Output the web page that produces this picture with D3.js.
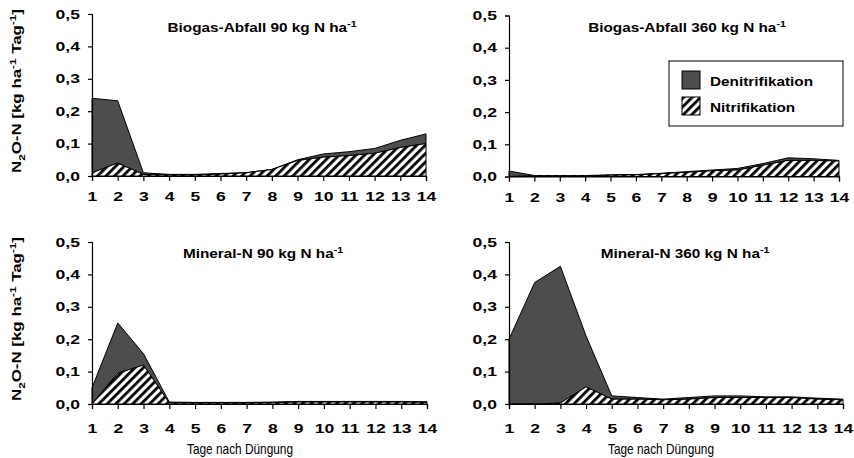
<!DOCTYPE html>
<html>
<head>
<meta charset="utf-8">
<script src="https://cdn.jsdelivr.net/npm/d3@7"></script>
<style>
  body { margin: 0; background: #fff; }
  svg { display: block; font-family: "Liberation Sans", Arial, sans-serif; }
</style>
</head>
<body>
<svg id="chart" width="854" height="458"></svg>
<script>
// Days after fertilisation
const days = [1, 2, 3, 4, 5, 6, 7, 8, 9, 10, 11, 12, 13, 14];
const yTicks = [0, 0.1, 0.2, 0.3, 0.4, 0.5];

// N2O-N flux from nitrification (lower layer) and denitrification (stacked on top)
const nitriBiogas90 = [0.01, 0.04, 0.005, 0.003, 0.003, 0.006, 0.01, 0.02, 0.048, 0.058, 0.063, 0.07, 0.088, 0.1];
const deniBiogas90  = [0.23, 0.192, 0.005, 0.002, 0.002, 0.002, 0.0, 0.0, 0.002, 0.01, 0.012, 0.015, 0.022, 0.03];

const nitriBiogas360 = [0, 0.002, 0.002, 0.002, 0.004, 0.005, 0.009, 0.013, 0.018, 0.02, 0.035, 0.05, 0.05, 0.048];
const deniBiogas360  = [0.017, 0.001, 0.001, 0.001, 0.001, 0.001, 0.001, 0.002, 0.002, 0.005, 0.005, 0.008, 0.005, 0.002];

const nitriMineral90 = [0, 0.095, 0.12, 0.003, 0.003, 0.003, 0.003, 0.004, 0.006, 0.006, 0.006, 0.006, 0.006, 0.005];
const deniMineral90  = [0.05, 0.155, 0.035, 0.003, 0.002, 0.002, 0.002, 0.002, 0.002, 0.002, 0.002, 0.002, 0.002, 0.002];

const nitriMineral360 = [0, 0, 0.003, 0.053, 0.015, 0.015, 0.013, 0.015, 0.02, 0.02, 0.02, 0.02, 0.015, 0.013];
const deniMineral360  = [0.2, 0.375, 0.422, 0.157, 0.01, 0.005, 0.002, 0.005, 0.005, 0.005, 0.002, 0.002, 0.003, 0.002];

const panelTitles = ["Biogas-Abfall 90 kg N ha", "Biogas-Abfall 360 kg N ha", "Mineral-N 90 kg N ha", "Mineral-N 360 kg N ha"];
const legendLabels = ["Denitrifikation", "Nitrifikation"];
const xTitle = "Tage nach Düngung";

// Panel frames (pixel layout)
const panels = [
  { title: panelTitles[0], nitri: nitriBiogas90,  deni: deniBiogas90,
    x0: 92,  x1: 426, y0: 176,   y1: 14,   titleX: 262, titleDy: 17.5, tickPad: 11, yLabel: true,  xLabel: false },
  { title: panelTitles[1], nitri: nitriBiogas360, deni: deniBiogas360,
    x0: 509, x1: 839, y0: 176.5, y1: 15.5, titleX: 687, titleDy: 16.5, tickPad: 11, yLabel: false, xLabel: false },
  { title: panelTitles[2], nitri: nitriMineral90, deni: deniMineral90,
    x0: 92,  x1: 427, y0: 404,   y1: 242,  titleX: 263, titleDy: 15.5, tickPad: 15, yLabel: true,  xLabel: true, xTitleX: 240 },
  { title: panelTitles[3], nitri: nitriMineral360,deni: deniMineral360,
    x0: 509, x1: 843, y0: 404,   y1: 242,  titleX: 685, titleDy: 15.5, tickPad: 15, yLabel: false, xLabel: true, xTitleX: 661 }
];

const svg = d3.select("#chart");
const DARK = "#4d4d4d";
const BOLD_STRETCH = 1.18;   // wide bold face for titles and legend
const TICK_STRETCH = 1.35;   // wide bold digits for tick labels

// Diagonal hatch pattern for nitrification
const defs = svg.append("defs");
const pat = defs.append("pattern")
  .attr("id", "hatch")
  .attr("patternUnits", "userSpaceOnUse")
  .attr("width", 6).attr("height", 6)
  .attr("patternTransform", "rotate(45)");
pat.append("rect").attr("width", 6).attr("height", 6).attr("fill", "#fff");
pat.append("rect").attr("x", 0).attr("y", 0).attr("width", 2.8).attr("height", 6).attr("fill", "#000");

function stretchedText(parent, x, y, k) {
  return parent.append("text").attr("transform", `translate(${x},${y}) scale(${k},1)`);
}

panels.forEach(p => {
  const x = d3.scaleLinear().domain([1, 14]).range([p.x0, p.x1]);
  const y = d3.scaleLinear().domain([0, 0.5]).range([p.y0, p.y1]);
  const g = svg.append("g");

  const rows = days.map((d, i) => ({ day: d, nitri: p.nitri[i], deni: p.deni[i] }));
  const stacked = d3.stack().keys(["nitri", "deni"])(rows);
  const area = d3.area()
    .x(d => x(d.data.day))
    .y0(d => y(d[0]))
    .y1(d => y(d[1]));

  g.append("path").datum(stacked[1])
    .attr("d", area)
    .attr("fill", DARK)
    .attr("stroke", "#000").attr("stroke-width", 1).attr("stroke-linejoin", "round");
  g.append("path").datum(stacked[0])
    .attr("d", area)
    .attr("fill", "url(#hatch)")
    .attr("stroke", "#000").attr("stroke-width", 1).attr("stroke-linejoin", "round");

  // Axes
  const yAxis = d3.axisLeft(y).tickValues(yTicks).tickSize(4).tickPadding(4.9)
    .tickFormat(d => d3.format(".1f")(d).replace(".", ","));
  const ya = g.append("g").attr("transform", `translate(${p.x0},0)`).call(yAxis);
  const xAxis = d3.axisBottom(x).tickValues(days).tickSize(5).tickPadding(p.tickPad).tickFormat(d3.format("d"));
  const xa = g.append("g").attr("transform", `translate(0,${p.y0})`).call(xAxis);
  [ya, xa].forEach(a => {
    a.select(".domain").attr("stroke", "#000").attr("stroke-width", 1.2);
    a.selectAll(".tick line").attr("stroke", "#000").attr("stroke-width", 1.2);
    a.selectAll(".tick text")
      .attr("fill", "#000")
      .attr("transform", `scale(${TICK_STRETCH},1)`)
      .style("font-family", "'Liberation Sans', Arial, sans-serif")
      .style("font-size", "13px").style("font-weight", "bold");
  });

  // Panel title with superscript
  const t = stretchedText(g, p.titleX, p.y1 + p.titleDy, BOLD_STRETCH)
    .attr("text-anchor", "middle")
    .style("font-size", "13px").style("font-weight", "bold");
  t.append("tspan").text(p.title);
  t.append("tspan").attr("dy", -5).style("font-size", "9px").text("-1");

  // Y-axis title
  if (p.yLabel) {
    const cy = p.y1 + 77;
    const yl = g.append("text")
      .attr("transform", `translate(21,${cy}) rotate(-90) scale(1.3,1)`)
      .attr("text-anchor", "middle")
      .style("font-size", "13px").style("font-weight", "bold");
    yl.append("tspan").text("N");
    yl.append("tspan").attr("dy", 4).style("font-size", "9px").text("2");
    yl.append("tspan").attr("dy", -4).text("O-N [kg ha");
    yl.append("tspan").attr("dy", -5).style("font-size", "9px").text("-1");
    yl.append("tspan").attr("dy", 5).text(" Tag");
    yl.append("tspan").attr("dy", -5).style("font-size", "9px").text("-1");
    yl.append("tspan").attr("dy", 5).text("]");
  }

  // X-axis title
  if (p.xLabel) {
    stretchedText(g, p.xTitleX, 453.5, 0.79)
      .attr("text-anchor", "middle")
      .style("font-size", "15px")
      .text(xTitle);
  }
});

// Legend
const lg = svg.append("g").attr("transform", "translate(669,61)");
lg.append("rect").attr("width", 174).attr("height", 65)
  .attr("fill", "#fff").attr("stroke", "#000").attr("stroke-width", 1);
const fills = [DARK, "url(#hatch)"];
legendLabels.forEach((label, i) => {
  const row = lg.append("g").attr("transform", `translate(13,${10 + i * 26})`);
  row.append("rect").attr("width", 18).attr("height", 18)
    .attr("fill", fills[i]).attr("stroke", "#000").attr("stroke-width", 1);
  stretchedText(row, 28, 15, BOLD_STRETCH)
    .style("font-size", "13px").style("font-weight", "bold").text(label);
});
</script>
</body>
</html>
